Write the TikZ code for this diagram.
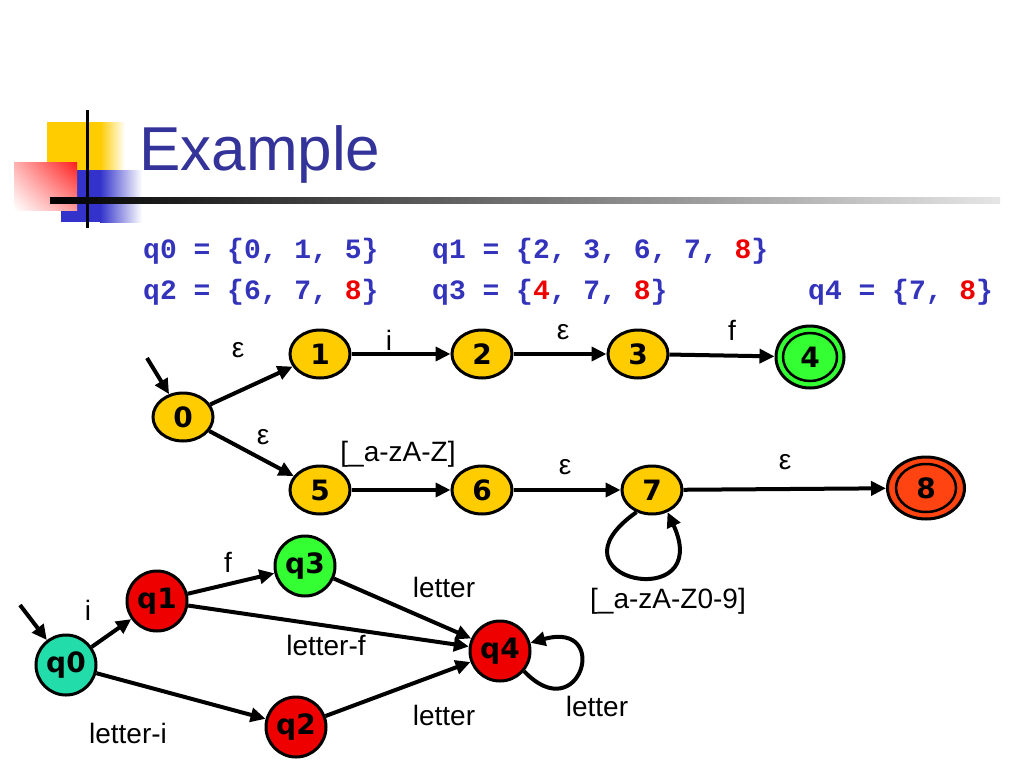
\documentclass[tikz,border=0pt]{standalone}
\usepackage{fontspec}
\setmainfont{Liberation Sans}
\newfontfamily\setsfont{Liberation Mono}
\newfontfamily\statefont{DejaVu Sans}
\usetikzlibrary{shapes.geometric,arrows.meta,shadings}
\definecolor{titleblue}{RGB}{51,51,153}
\definecolor{setblue}{RGB}{51,51,187}
\definecolor{setred}{RGB}{238,0,0}
\definecolor{styellow}{RGB}{255,204,0}
\definecolor{stgreen}{RGB}{51,255,51}
\definecolor{storange}{RGB}{255,68,17}
\definecolor{stred}{RGB}{238,0,0}
\definecolor{stteal}{RGB}{34,221,170}
\definecolor{decoyellow}{RGB}{255,204,0}
\definecolor{decored}{RGB}{255,30,30}
\definecolor{decoblue}{RGB}{51,51,204}
\begin{document}
\begin{tikzpicture}[x=1pt,y=-1pt,
    st/.style={ellipse,draw,line width=3pt,inner sep=0pt,minimum width=60pt,minimum height=48pt,
      fill=styellow,font=\statefont\bfseries\fontsize{28}{30}\selectfont},
    qst/.style={circle,draw,line width=3pt,inner sep=0pt,minimum size=60pt,
      font=\statefont\bfseries\fontsize{28}{30}\selectfont},
    edge/.style={line width=4pt,-{Triangle[length=15pt,width=14pt]}},
    lbl/.style={inner sep=0pt,font=\fontsize{28}{32}\selectfont},
    sets/.style={anchor=base west,inner sep=0pt,text=setblue,font=\setsfont\bfseries\fontsize{28}{32}\selectfont}]
    \useasboundingbox[fill=white] (0,0) rectangle (1024,768);
    % title decoration
    \fill[decoyellow] (47,122) rectangle (100,178);
    \shade[left color=decoyellow,right color=white] (100,122) rectangle (125,178);
    \fill[decoblue] (61,170) rectangle (100,222);
    \shade[left color=decoblue,right color=white] (100,170) rectangle (142,222);
    \shade[upper right=decored,lower right=decored!45,upper left=decored!35,lower left=white] (14,162) rectangle (77,210);
    \fill[black] (85.5,110) rectangle (88.5,228);
    \shade[left color=black,right color=black!10] (50,197) rectangle (1000,203);
    \node[anchor=base west,inner sep=0pt,text=titleblue,font=\fontsize{62}{70}\selectfont] (title) at (139,170) {Example};
    % state sets
    \node[sets] (set0) at (143,258) {q0 = \{0, 1, 5\}};
    \node[sets] (set1) at (432,258) {q1 = \{2, 3, 6, 7, \textcolor{setred}{8}\}};
    \node[sets] (set2) at (143,299) {q2 = \{6, 7, \textcolor{setred}{8}\}};
    \node[sets] (set3) at (432,299) {q3 = \{\textcolor{setred}{4}, 7, \textcolor{setred}{8}\}};
    \node[sets] (set4) at (808,299) {q4 = \{7, \textcolor{setred}{8}\}};
    % NFA
    \node[st] (n0) at (183,417) {0};
    \node[st] (n1) at (320,354) {1};
    \node[st] (n2) at (482,354) {2};
    \node[st] (n3) at (638,354) {3};
    \node[st,fill=stgreen,minimum width=68pt,minimum height=62pt] (n4) at (810,357) {4};
    \draw[line width=2.5pt] (n4.center) ellipse (27 and 24);
    \node[st] (n5) at (320,490) {5};
    \node[st] (n6) at (482,490) {6};
    \node[st] (n7) at (652,490) {7};
    \node[st,fill=storange,minimum width=77pt,minimum height=62pt] (n8) at (926,488) {8};
    \draw[line width=2.5pt] (n8.center) ellipse (30 and 24);
    \coordinate (in0) at (147,358);
    \draw[edge] (in0) -- (n0);
    \draw[edge] (n0) -- (n1);
    \draw[edge] (n1) -- (n2);
    \draw[edge] (n2) -- (n3);
    \draw[edge] (n3) -- (n4);
    \draw[edge] (n0) -- (n5);
    \draw[edge] (n5) -- (n6);
    \draw[edge] (n6) -- (n7);
    \draw[edge] (n7) -- (n8);
    \draw[edge] (n7.235) .. controls (540,580) and (715,615) .. (n7.-55);
    \node[lbl] (e01) at (238,350) {ε};
    \node[lbl] (i12) at (389,340) {i};
    \node[lbl] (e23) at (563,332) {ε};
    \node[lbl] (f34) at (732,330) {f};
    \node[lbl] (e05) at (263,437) {ε};
    \node[lbl] (c56) at (398,454) {[\_a-zA-Z]};
    \node[lbl] (e67) at (565,467) {ε};
    \node[lbl] (e78) at (785,462) {ε};
    \node[lbl] (c77) at (668,601) {[\_a-zA-Z0-9]};
    % DFA
    \node[qst,fill=stteal] (q0) at (66,665) {q0};
    \node[qst,fill=stred] (q1) at (157,601) {q1};
    \node[qst,fill=stgreen] (q3) at (305,566) {q3};
    \node[qst,fill=stred] (q4) at (500,651) {q4};
    \node[qst,fill=stred] (q2) at (296,727) {q2};
    \coordinate (inq0) at (20,605);
    \draw[edge] (inq0) -- (q0);
    \draw[edge] (q0) -- (q1);
    \draw[edge] (q1) -- (q3);
    \draw[edge] (q1) -- (q4);
    \draw[edge] (q3) -- (q4);
    \draw[edge] (q0) -- (q2);
    \draw[edge] (q2) -- (q4);
    \draw[edge] (q4.-40) .. controls (580,730) and (612,620) .. (q4.15);
    \node[lbl] (i01) at (88,610) {i};
    \node[lbl] (f13) at (228,562) {f};
    \node[lbl] (lf14) at (326,645) {letter-f};
    \node[lbl] (l34) at (444,587) {letter};
    \node[lbl] (li02) at (128,733) {letter-i};
    \node[lbl] (l24) at (444,715) {letter};
    \node[lbl] (l44) at (597,706) {letter};
\end{tikzpicture}
\end{document}
